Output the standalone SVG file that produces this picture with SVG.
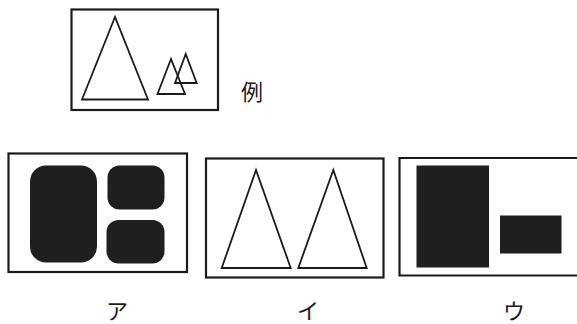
<svg xmlns="http://www.w3.org/2000/svg" width="577" height="324" viewBox="0 0 577 324">
<style>
.frame{fill:none;stroke:#1a1a1a;stroke-width:2.2}
.tri{fill:none;stroke:#1a1a1a;stroke-width:1.8;stroke-linejoin:miter}
.solid{fill:#1f1f1f}
.lbl{font-family:"Noto Sans CJK JP","Noto Sans CJK SC",sans-serif;font-size:22px;fill:#1a1a1a;text-anchor:middle}
</style>
<rect width="577" height="324" fill="#ffffff"/>
<g id="example">
<rect class="frame" x="71.5" y="9.5" width="146.5" height="100.5"/>
<polygon class="tri" points="115,17 82,99.5 148,99.5"/>
<polygon class="tri" points="171,59 157.5,94 185,94"/>
<polygon class="tri" points="185.7,54 175,83 196.7,83"/>
<text class="lbl" x="252" y="100">例</text>
</g>
<g id="a">
<rect class="frame" x="8.5" y="153.5" width="178.5" height="118.5"/>
<rect class="solid" x="30" y="165.5" width="67" height="97" rx="16"/>
<rect class="solid" x="107.5" y="165.5" width="57" height="44" rx="12"/>
<rect class="solid" x="106.5" y="220" width="58" height="43.5" rx="12"/>
<text class="lbl" x="117" y="319">ア</text>
</g>
<g id="i">
<rect class="frame" x="206" y="158.5" width="177.5" height="119"/>
<polygon class="tri" points="256,170 221.7,268 290.7,268"/>
<polygon class="tri" points="333.3,170 298.3,268 366.7,268"/>
<text class="lbl" x="308" y="319">イ</text>
</g>
<g id="u">
<path class="frame" d="M580,158 H399.5 V275.5 H580"/>
<rect class="solid" x="416.5" y="165.5" width="72.5" height="102"/>
<rect class="solid" x="500" y="215.5" width="61.5" height="38"/>
<text class="lbl" x="514" y="319">ウ</text>
</g>
<g id="connectors"/>
</svg>
